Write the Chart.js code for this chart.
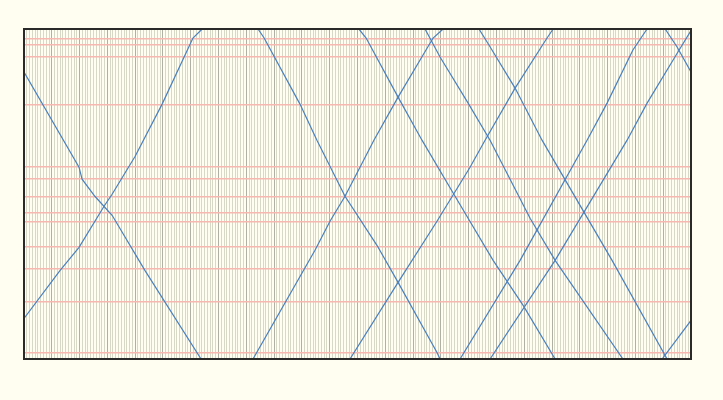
<!DOCTYPE html>
<html>
<head>
<meta charset="utf-8">
<script src="https://cdn.jsdelivr.net/npm/chart.js@4"></script>
<style>
  html, body { margin: 0; padding: 0; background: #fffef0; }
  #wrap { width: 723px; height: 400px; }
</style>
</head>
<body>
<div id="wrap"><canvas id="diagram" width="723" height="400"></canvas></div>
<script>
// stations, km from the upper terminal
const stations = [1.9, 3.2, 5.5, 15.1, 27.6, 30.0, 33.5, 36.7, 38.5, 43.4, 47.9, 54.5, 64.7];
const lineLength = 65.9;
const timeSpan = 240; // minutes shown

// trains as [minute, km] pairs
const down1 = [[0, 8.6], [19.8, 27.6], [20.9, 30.0], [25.5, 33.4], [31.7, 37.2], [43.5, 48.2], [63.7, 65.9]];
const down2 = [[84.2, 0], [86.4, 1.8], [99.3, 15.0], [105.4, 22.2], [115.5, 33.4], [127.0, 43.2], [134.6, 50.6], [148.6, 64.6], [149.7, 65.9]];
const down3 = [[120.5, 0], [123.1, 1.8], [134.6, 13.6], [143.2, 22.2], [155.1, 33.4], [168.8, 46.2], [179.6, 55.2], [191.1, 65.9]];
const down4 = [[144.3, 0], [149.7, 5.6], [159.8, 14.8], [167.7, 22.2], [182.1, 37.8], [191.1, 46.2], [215.5, 65.9]];
const down5 = [[163.7, 0], [167.3, 3.2], [176.7, 11.8], [186.4, 22.2], [211.6, 46.2], [231.4, 65.9]];
const down6 = [[230.7, 0], [235.0, 3.6], [240, 8.6]];

const up1 = [[0, 57.8], [13.0, 48.2], [19.8, 43.6], [28.8, 35.4], [31.7, 33.0], [40.0, 25.4], [49.7, 15.0], [60.8, 1.8], [64.1, 0]];
const up2 = [[82.4, 65.9], [104.7, 44.2], [110.1, 38.4], [115.5, 33.4], [120.9, 27.6], [125.9, 22.2], [134.6, 13.6], [147.2, 1.8], [150.8, 0]];
const up3 = [[117.3, 65.9], [134.6, 50.6], [148.6, 38.4], [160.5, 27.6], [165.9, 22.2], [176.7, 11.8], [188.2, 1.8], [190.4, 0]];
const up4 = [[156.9, 65.9], [178.5, 46.2], [202.6, 22.2], [209.8, 14.8], [219.1, 4.2], [222.0, 1.8], [224.2, 0]];
const up5 = [[167.7, 65.9], [191.1, 46.2], [217.0, 22.2], [224.2, 14.8], [235.3, 4.6], [240, 0.3]];
const up6 = [[229.6, 65.9], [240, 58.2]];

const trains = [down1, down2, down3, down4, down5, down6, up1, up2, up3, up4, up5, up6];

const frame = {
  id: "frame",
  beforeDraw(chart) {
    const c = chart.ctx;
    c.save();
    c.fillStyle = "#fffef0";
    c.fillRect(0, 0, chart.width, chart.height);
    c.restore();
  },
  afterDraw(chart) {
    const a = chart.chartArea;
    const c = chart.ctx;
    c.save();
    c.strokeStyle = "#2a2a2a";
    c.lineWidth = 2;
    c.strokeRect(a.left, a.top, a.right - a.left, a.bottom - a.top);
    c.restore();
  },
};

document.addEventListener("DOMContentLoaded", () => {
  const ctx = document.getElementById("diagram").getContext("2d");

  const datasets = trains.map((t) => ({
    data: t.map((p) => ({ x: p[0], y: p[1] })),
    borderColor: "#4a80be",
    borderWidth: 1.2,
    pointRadius: 0,
    showLine: true,
    fill: false,
    tension: 0,
  }));

  new Chart(ctx, {
    type: "scatter",
    data: { datasets: datasets },
    options: {
      responsive: false,
      animation: false,
      layout: { padding: { left: 24, top: 29, right: 32, bottom: 41 } },
      plugins: { legend: { display: false }, tooltip: { enabled: false } },
      scales: {
        x: {
          type: "linear",
          min: 0,
          max: timeSpan,
          afterBuildTicks: (scale) => {
            const ticks = [];
            for (let m = 0; m <= timeSpan; m++) ticks.push({ value: m });
            scale.ticks = ticks;
          },
          ticks: { display: false, autoSkip: false },
          border: { display: false },
          grid: {
            drawTicks: false,
            lineWidth: 1,
            color: (c) => (c.tick && c.tick.value % 10 === 0 ? "#b0b0a4" : "#d8d8c6"),
          },
        },
        y: {
          type: "linear",
          reverse: true,
          min: 0,
          max: lineLength,
          afterBuildTicks: (scale) => {
            scale.ticks = stations.map((v) => ({ value: v }));
          },
          ticks: { display: false, autoSkip: false },
          border: { display: false },
          grid: { drawTicks: false, lineWidth: 1.5, color: "#f6b8b0" },
        },
      },
    },
    plugins: [frame],
  });
});
</script>
</body>
</html>
